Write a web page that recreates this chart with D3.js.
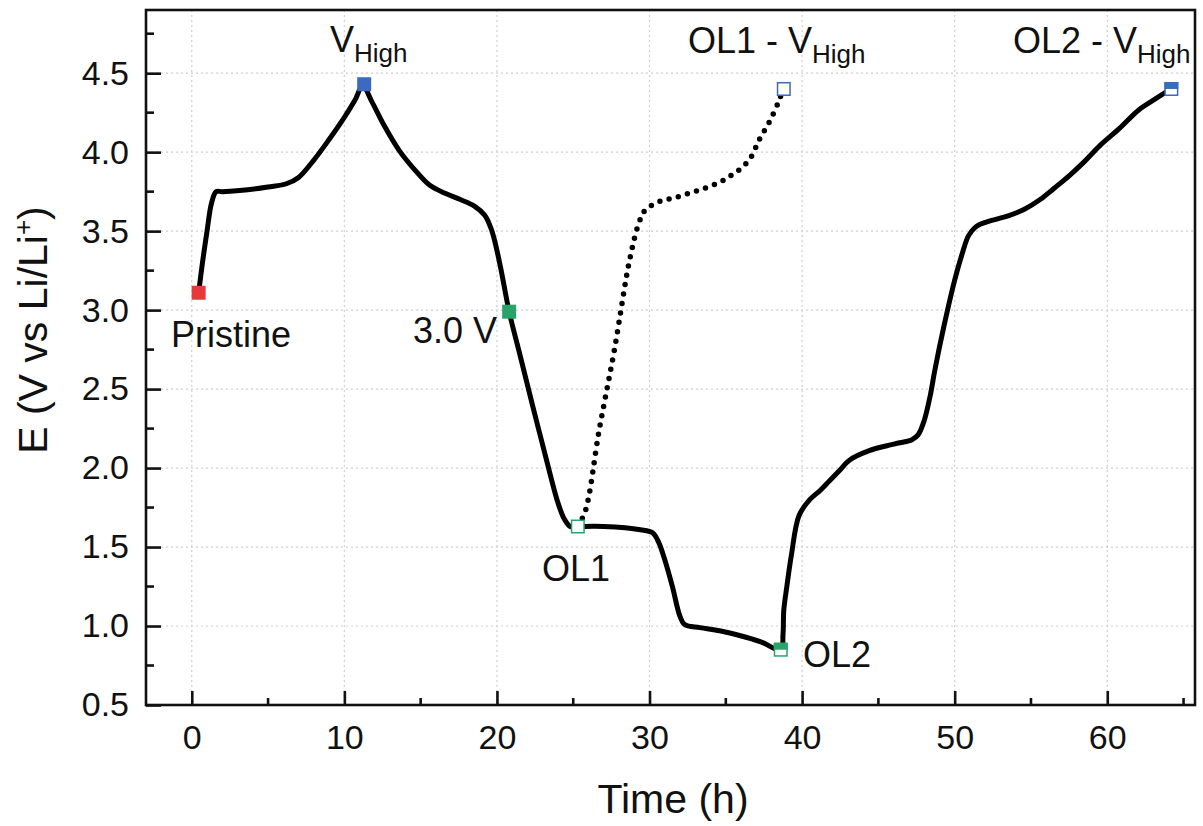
<!DOCTYPE html>
<html><head><meta charset="utf-8">
<script src="https://cdn.jsdelivr.net/npm/d3@7"></script>
<style>body{margin:0;background:#fff}svg{display:block}text{font-family:"Liberation Sans",Arial,sans-serif;fill:#111}</style>
</head><body><svg id="c" width="1203" height="826"></svg>
<script>
// ---- data ----
const mainTime = [0.45,0.7,1.0,1.3,1.6,2.0,3.5,5.0,6.2,7.0,8.0,9.0,10.0,10.7,11.2,11.8,12.6,13.6,14.6,15.6,16.6,17.6,18.5,19.2,19.6,19.9,20.3,20.8,21.5,22.3,23.2,24.0,24.4,24.8,25.3,27.0,29.4,30.2,30.6,31.0,31.5,32.0,32.3,33.3,34.6,35.9,37.3,38.6,38.75,38.8,39.0,39.3,39.8,40.5,41.2,41.8,42.5,43.1,44.4,45.5,46.4,47.2,47.6,48.0,48.4,48.7,49.3,50.0,50.5,50.9,51.3,51.6,52.5,53.6,54.6,55.6,56.5,57.5,58.5,59.5,60.8,62.1,63.2,64.2];
const mainE    = [3.11,3.30,3.50,3.68,3.75,3.75,3.76,3.78,3.80,3.84,3.95,4.08,4.22,4.33,4.42,4.32,4.17,4.01,3.89,3.79,3.74,3.70,3.66,3.60,3.52,3.42,3.24,2.99,2.72,2.41,2.07,1.78,1.68,1.63,1.63,1.63,1.61,1.59,1.53,1.42,1.25,1.06,1.01,0.99,0.97,0.94,0.90,0.85,0.95,1.10,1.25,1.45,1.70,1.80,1.86,1.92,1.99,2.05,2.11,2.14,2.16,2.18,2.21,2.30,2.46,2.62,2.90,3.19,3.36,3.47,3.52,3.54,3.57,3.60,3.64,3.70,3.77,3.85,3.94,4.04,4.15,4.27,4.34,4.40];
const ol1Time  = [25.3,25.8,26.7,27.7,28.7,29.3,29.7,30.7,31.6,32.6,33.6,34.6,35.3,35.9,36.6,37.2,37.9,38.5,38.75];
const ol1E     = [1.63,1.73,2.24,2.75,3.32,3.55,3.63,3.69,3.71,3.74,3.77,3.81,3.85,3.89,3.96,4.08,4.20,4.33,4.40];
const markerNames = ["Pristine","VHigh","3.0 V","OL1","OL2","OL1 - VHigh","OL2 - VHigh"];
const markerTime  = [0.45,11.3,20.8,25.3,38.6,38.8,64.2];
const markerE     = [3.11,4.43,2.99,1.63,0.85,4.40,4.40];
const xTicks = [0,10,20,30,40,50,60];
const yTicks = [0.5,1.0,1.5,2.0,2.5,3.0,3.5,4.0,4.5];

// ---- layout ----
const svg = d3.select("#c");
const L=146,R=1195,T=10,B=705;
const x = d3.scaleLinear().domain([-3.0,65.75]).range([L,R]);
const y = d3.scaleLinear().domain([0.5,4.9]).range([B,T]);

const red="#e8393a", blue="#3a6bbf", green="#2aa36b";
const mStyle = [
 {fill:red,stroke:red,half:false},
 {fill:blue,stroke:blue,half:false},
 {fill:green,stroke:green,half:false},
 {fill:"#fff",stroke:green,half:false},
 {fill:green,stroke:green,half:true},
 {fill:"#fff",stroke:blue,half:false},
 {fill:blue,stroke:blue,half:true}
];

// grid
const g = svg.append("g");
g.selectAll(".gx").data(xTicks).join("line").attr("x1",d=>x(d)).attr("x2",d=>x(d)).attr("y1",T).attr("y2",B)
 .attr("stroke","#d0d0d0").attr("stroke-width",1.2).attr("stroke-dasharray","2,3");
g.selectAll(".gy").data(yTicks.slice(1)).join("line").attr("y1",d=>y(d)).attr("y2",d=>y(d)).attr("x1",L).attr("x2",R)
 .attr("stroke","#d0d0d0").attr("stroke-width",1.2).attr("stroke-dasharray","2,3");

// lines
const line = d3.line().x(d=>x(d[0])).y(d=>y(d[1])).curve(d3.curveCatmullRom.alpha(0.5));
svg.append("path").datum(ol1Time.map((t,i)=>[t,ol1E[i]])).attr("d",line).attr("fill","none")
 .attr("stroke","#000").attr("stroke-width",5.5).attr("stroke-linecap","round").attr("stroke-dasharray","0,9.5");
svg.append("path").datum(mainTime.map((t,i)=>[t,mainE[i]])).attr("d",line).attr("fill","none")
 .attr("stroke","#000").attr("stroke-width",5).attr("stroke-linejoin","round");

// markers
const s=14;
markerTime.forEach((t,i)=>{
  const cx=x(t), cy=y(markerE[i]), st=mStyle[i];
  if(st.half){
    svg.append("rect").attr("x",cx-s/2+0.75).attr("y",cy-s/2+0.75).attr("width",s-1.5).attr("height",s-1.5).attr("fill","#fff").attr("stroke",st.stroke).attr("stroke-width",1.5);
    svg.append("rect").attr("x",cx-s/2).attr("y",cy-s/2).attr("width",s).attr("height",s/2).attr("fill",st.fill);
  } else if(st.fill==="#fff"){
    svg.append("rect").attr("x",cx-s/2+0.75).attr("y",cy-s/2+0.75).attr("width",s-1.5).attr("height",s-1.5).attr("fill","#fff").attr("stroke",st.stroke).attr("stroke-width",1.5);
  } else {
    svg.append("rect").attr("x",cx-s/2).attr("y",cy-s/2).attr("width",s).attr("height",s).attr("fill",st.fill);
  }
});

// axes frame
svg.append("rect").attr("x",L).attr("y",T).attr("width",R-L).attr("height",B-T).attr("fill","none").attr("stroke","#111").attr("stroke-width",2.6);

const xAxis = d3.axisBottom(x).tickValues(xTicks).tickSize(-14).tickPadding(20).tickFormat(d3.format("d"));
const xa = svg.append("g").attr("transform",`translate(0,${B})`).call(xAxis);
const yAxis = d3.axisLeft(y).tickValues(yTicks).tickSize(-15).tickPadding(17).tickFormat(d3.format(".1f"));
const ya = svg.append("g").attr("transform",`translate(${L},0)`).call(yAxis);
[xa,ya].forEach(a=>{a.select(".domain").remove();a.selectAll("line").attr("stroke","#111").attr("stroke-width",2.6);
  a.selectAll("text").attr("font-size",34).attr("font-family","'Liberation Sans',Arial,sans-serif").attr("fill","#111");});
// minor ticks
const xMinor=[5,15,25,35,45,55,65];
svg.selectAll(".mx").data(xMinor).join("line").attr("x1",d=>x(d)).attr("x2",d=>x(d)).attr("y1",B).attr("y2",B-7).attr("stroke","#111").attr("stroke-width",2.6);
const yMinor=[0.75,1.25,1.75,2.25,2.75,3.25,3.75,4.25,4.75];
svg.selectAll(".my").data(yMinor).join("line").attr("y1",d=>y(d)).attr("y2",d=>y(d)).attr("x1",L).attr("x2",L+8).attr("stroke","#111").attr("stroke-width",2.6);

// axis titles
svg.append("text").attr("x",673).attr("y",813).attr("text-anchor","middle").attr("font-size",41).text("Time (h)");
const yt = svg.append("text").attr("transform",`translate(47,330) rotate(-90)`).attr("text-anchor","middle").attr("font-size",41);
yt.append("tspan").text("E (V vs Li/Li");
yt.append("tspan").attr("dy",-15).attr("font-size",26).text("+");
yt.append("tspan").attr("dy",15).text(")");

// annotations
function sub(xp,yp,anchor,main){
  const t=svg.append("text").attr("x",xp).attr("y",yp).attr("text-anchor",anchor).attr("font-size",36);
  t.append("tspan").text(main);
  t.append("tspan").attr("dy",10).attr("font-size",26).text("High");
  return t;
}
svg.append("text").attr("x",231).attr("y",347).attr("text-anchor","middle").attr("font-size",36).text("Pristine");
sub(330,52,"start","V");
svg.append("text").attr("x",497).attr("y",343).attr("text-anchor","end").attr("font-size",36).text("3.0 V");
svg.append("text").attr("x",576).attr("y",581).attr("text-anchor","middle").attr("font-size",36).text("OL1");
svg.append("text").attr("x",803).attr("y",667).attr("text-anchor","start").attr("font-size",36).text("OL2");
sub(688,53,"start","OL1 - V");
sub(1013,53,"start","OL2 - V");
</script></body></html>
